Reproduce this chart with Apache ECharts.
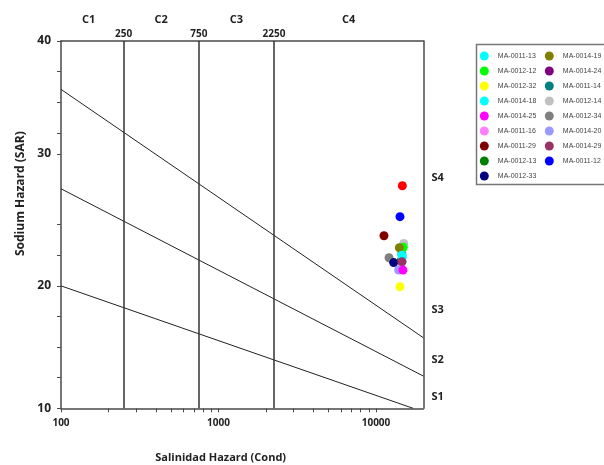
<!DOCTYPE html>
<html><head><meta charset="utf-8">
<script src="https://cdn.jsdelivr.net/npm/echarts@6/dist/echarts.min.js"></script>
<style>html,body{margin:0;padding:0;background:#fff}#c{width:604px;height:465px}</style>
</head><body><div id="c"></div>
<script>
// ---- data (draw order: later samples are drawn on top) ----
const sampleNames = ['MA-0011-14','MA-0014-24','MA-0012-13','MA-0011-16','MA-0012-14','MA-0012-12','MA-0014-19','MA-0012-34','MA-0012-33','MA-0011-13','MA-0014-18','MA-0014-29','MA-0014-20','MA-0014-25','MA-0012-32','MA-0011-12','MA-0011-29',''];
const sampleCond  = [14600, 14600, 14500, 14500, 15000, 14900, 14070, 12100, 12950, 14600, 14700, 14600, 13930, 14830, 14200, 14200, 11240, 14700];
const sampleSar   = [22.6, 22.0, 22.1, 21.4, 23.47, 23.15, 23.11, 22.3, 21.9, 22.5, 22.35, 21.97, 21.3, 21.29, 19.93, 25.65, 24.09, 28.18];
const sampleColors = ['#008080','#800080','#008000','#ff80ff','#c0c0c0','#00ff00','#808000','#808080','#000080','#00ffff','#00ffff','#993366','#9999ff','#ff00ff','#ffff00','#0000ff','#800000','#ff0000'];
const legendCol1 = ['MA-0011-13','MA-0012-12','MA-0012-32','MA-0014-18','MA-0014-25','MA-0011-16','MA-0011-29','MA-0012-13','MA-0012-33'];
const legendCol2 = ['MA-0014-19','MA-0014-24','MA-0011-14','MA-0012-14','MA-0012-34','MA-0014-20','MA-0014-29','MA-0011-12'];

const xLabelValues = [100, 1000, 10000];
const xTickValues = [100,200,300,400,500,600,700,800,900,1000,2000,3000,4000,5000,6000,7000,8000,9000,10000];
const yLabelValues = [10, 20, 30.77, 40];
const yLabelTexts = ['10', '20', '30', '40'];
const yTickValues = [10, 12.5, 15, 17.5, 20, 22.5, 25, 30.77, 32.5, 35, 37.5, 40];
const classBounds = [250, 750, 2250];
const cLabelValues = [150, 433, 1299, 6708];
const cLabels = ['C1', 'C2', 'C3', 'C4'];
const sLabelValues = [10.9, 13.95, 18.0, 28.8];
const sLabels = ['S1', 'S2', 'S3', 'S4'];
const lineS4S3 = [[100, 36.05], [20000, 15.76]];
const lineS3S2 = [[100, 27.93], [20000, 12.63]];
const lineS2S1 = [[100, 20], [17200, 10]];

// ---- chart ----
const chart = echarts.init(document.getElementById('c'));
const FONT = 'Open Sans';
const AX = '#4a4a4a';
function nearestLabel(vals, texts, v) {
  let bi = 0, bd = Infinity;
  vals.forEach((x, i) => { const d = Math.abs(Math.log(x) - Math.log(v)); if (d < bd) { bd = d; bi = i; } });
  return texts[bi];
}
function nearestLin(vals, texts, v) {
  let bi = 0, bd = Infinity;
  vals.forEach((x, i) => { const d = Math.abs(x - v); if (d < bd) { bd = d; bi = i; } });
  return texts[bi];
}
const boundaryStyle = { color: '#222', width: 1 };
const series = [
  {
    type: 'line', data: lineS4S3, symbol: 'none', silent: true, lineStyle: boundaryStyle, z: 1,
    markLine: {
      silent: true, symbol: 'none', animation: false,
      lineStyle: { color: '#333', width: 1.5, type: 'solid' },
      label: { show: true, position: 'end', formatter: '{c}', fontFamily: FONT, fontWeight: 'bold', fontSize: 10, color: '#222', distance: 2 },
      data: classBounds.map(v => ({ xAxis: v }))
    }
  },
  { type: 'line', data: lineS3S2, symbol: 'none', silent: true, lineStyle: boundaryStyle, z: 1 },
  { type: 'line', data: lineS2S1, symbol: 'none', silent: true, lineStyle: boundaryStyle, z: 1 }
];
sampleNames.forEach((n, i) => {
  series.push({
    type: 'scatter', name: n, symbol: 'circle', symbolSize: 9,
    itemStyle: { color: sampleColors[i], opacity: 1 },
    data: [[sampleCond[i], sampleSar[i]]], z: 3
  });
});
const legendBase = {
  orient: 'vertical', icon: 'circle', itemWidth: 17, itemHeight: 9, itemGap: 6, padding: 0,
  textStyle: { fontFamily: 'Liberation Sans', fontSize: 7, color: '#444', lineHeight: 9 },
  selectedMode: false
};
chart.setOption({
  animation: false,
  grid: { left: 61, right: 180.6, top: 41, bottom: 56.7, outerBoundsMode: 'none', containLabel: false },
  graphic: [{ type: 'rect', z: 0, shape: { x: 476.5, y: 44.5, width: 140, height: 140 }, style: { fill: '#fff', stroke: '#777', lineWidth: 1.5 } }],
  legend: [
    Object.assign({}, legendBase, { left: 479.8, top: 51.5, data: legendCol1 }),
    Object.assign({}, legendBase, { left: 544.8, top: 51.5, data: legendCol2 })
  ],
  xAxis: [
    {
      type: 'log', logBase: 10, min: 100, max: 20000, position: 'bottom', gridIndex: 0,
      axisLine: { show: true, lineStyle: { color: AX, width: 1.5 } },
      axisTick: { show: true, length: 4, customValues: xTickValues, lineStyle: { color: AX, width: 1 } },
      axisLabel: { customValues: xLabelValues, formatter: v => String(Math.round(v)), fontFamily: FONT, fontWeight: 'bold', fontSize: 10, color: '#222', margin: 10 },
      splitLine: { show: false }, minorTick: { show: false },
      name: 'Salinidad Hazard (Cond)', nameLocation: 'middle', nameGap: 44,
      nameTextStyle: { fontFamily: FONT, fontWeight: 'bold', fontSize: 11, color: '#222', padding: [0, 43, 0, 0] }
    },
    {
      type: 'log', logBase: 10, min: 100, max: 20000, position: 'top', gridIndex: 0,
      axisLine: { show: true, lineStyle: { color: AX, width: 1.5 } },
      axisTick: { show: false },
      axisLabel: { customValues: cLabelValues, formatter: v => nearestLabel(cLabelValues, cLabels, v), fontFamily: FONT, fontWeight: 'bold', fontSize: 11, color: '#222', margin: 16 },
      splitLine: { show: false }
    }
  ],
  yAxis: [
    {
      type: 'value', min: 10, max: 40, position: 'left',
      axisLine: { show: true, lineStyle: { color: AX, width: 1.5 } },
      axisTick: { show: true, length: 4, customValues: yTickValues, lineStyle: { color: AX, width: 1 } },
      axisLabel: { customValues: yLabelValues, formatter: v => nearestLin(yLabelValues, yLabelTexts, v), fontFamily: FONT, fontWeight: 'bold', fontSize: 12, color: '#222', margin: 10 },
      splitLine: { show: false },
      name: 'Sodium Hazard (SAR)', nameLocation: 'middle', nameGap: 27,
      nameTextStyle: { fontFamily: FONT, fontWeight: 'bold', fontSize: 12, color: '#222', padding: [0, 0, 0, 62] }
    },
    {
      type: 'value', min: 10, max: 40, position: 'right',
      axisLine: { show: true, lineStyle: { color: AX, width: 1.5 } },
      axisTick: { show: false },
      axisLabel: { customValues: sLabelValues, formatter: v => nearestLin(sLabelValues, sLabels, v), fontFamily: FONT, fontWeight: 'bold', fontSize: 11, color: '#222', margin: 8 },
      splitLine: { show: false }
    }
  ],
  series: series
});
</script></body></html>
